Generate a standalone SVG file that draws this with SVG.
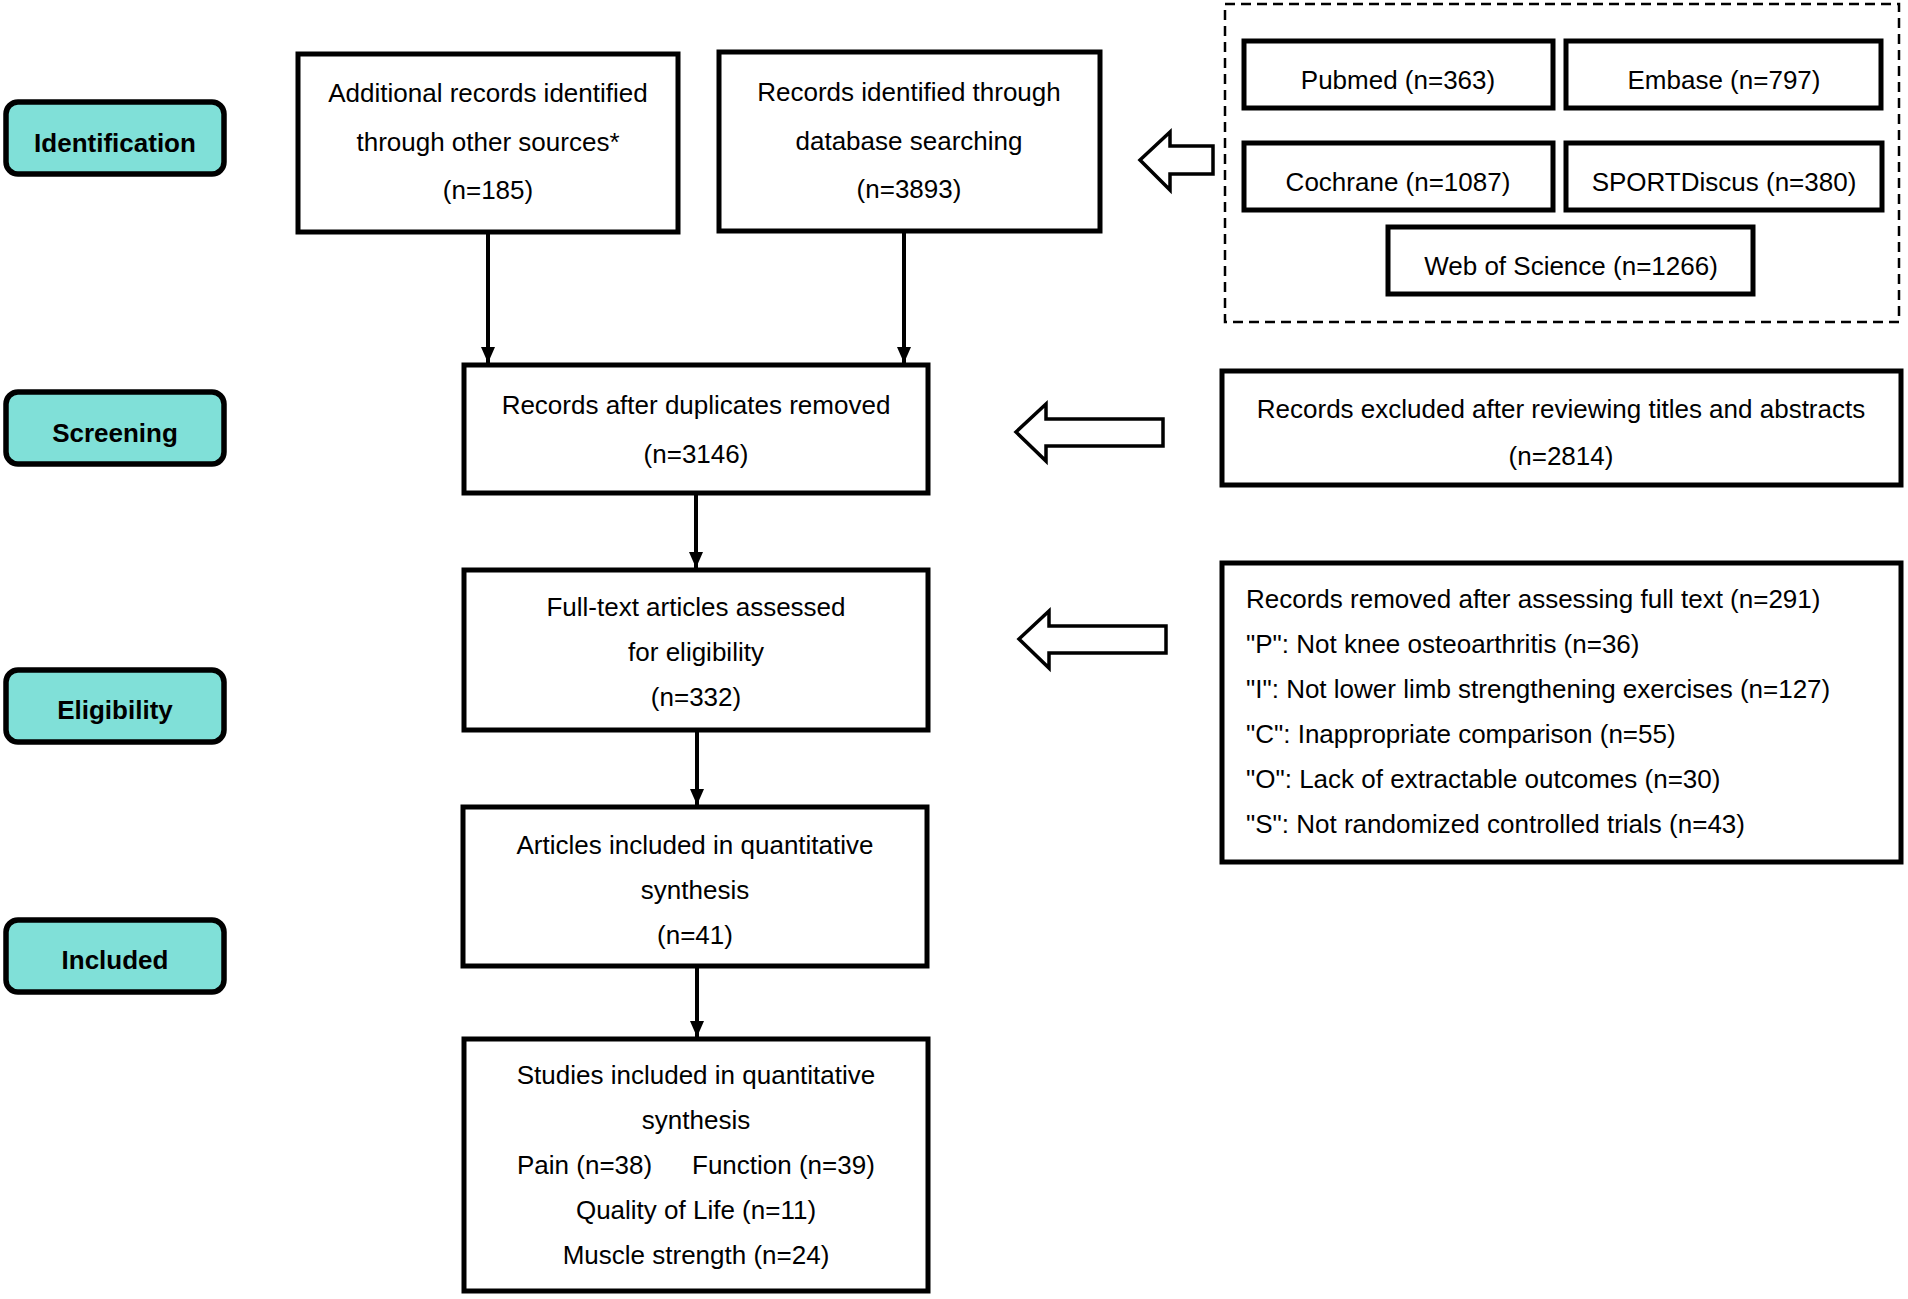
<svg xmlns="http://www.w3.org/2000/svg" width="1908" height="1299" viewBox="0 0 1908 1299">
<style>
text{font-family:"Liberation Sans",Arial,sans-serif;font-size:26px;fill:#000}
.c{text-anchor:middle}
.ph rect{fill:#80e0d8;stroke:#000;stroke-width:5.5}
.ph text{font-weight:bold;text-anchor:middle}
.box{fill:#fff;stroke:#000;stroke-width:5}
.ha{fill:#fff;stroke:#000;stroke-width:3.5;stroke-linejoin:miter}
.cn line{stroke:#000;stroke-width:4}
</style>
<defs>
<marker id="ah" markerUnits="userSpaceOnUse" markerWidth="16" markerHeight="14" refX="16" refY="7" viewBox="0 0 16 14" orient="auto">
<path d="M0,0 L16,7 L0,14 Z" fill="#000"/>
</marker>
</defs>
<rect width="1908" height="1299" fill="#fff"/>

<g id="phase-identification" class="ph"><rect x="6" y="102" width="218" height="72" rx="12"/><text x="115" y="152">Identification</text></g>
<g id="phase-screening" class="ph"><rect x="6" y="392" width="218" height="72" rx="12"/><text x="115" y="442">Screening</text></g>
<g id="phase-eligibility" class="ph"><rect x="6" y="670" width="218" height="72" rx="12"/><text x="115" y="719">Eligibility</text></g>
<g id="phase-included" class="ph"><rect x="6" y="920" width="218" height="72" rx="12"/><text x="115" y="969">Included</text></g>

<g id="other-sources"><rect class="box" x="298" y="54" width="380" height="178"/>
<text class="c" x="488" y="102">Additional records identified</text>
<text class="c" x="488" y="151">through other sources*</text>
<text class="c" x="488" y="199">(n=185)</text></g>

<g id="database-search"><rect class="box" x="719" y="52" width="381" height="179"/>
<text class="c" x="909" y="101">Records identified through</text>
<text class="c" x="909" y="150">database searching</text>
<text class="c" x="909" y="198">(n=3893)</text></g>

<g id="databases">
<rect x="1225" y="4" width="674" height="318" fill="none" stroke="#000" stroke-width="2.5" stroke-dasharray="10,6"/>
<g id="pubmed"><rect class="box" x="1244" y="41" width="309" height="67"/><text class="c" x="1398" y="89">Pubmed (n=363)</text></g>
<g id="embase"><rect class="box" x="1566" y="41" width="315" height="67"/><text class="c" x="1724" y="89">Embase (n=797)</text></g>
<g id="cochrane"><rect class="box" x="1244" y="143" width="309" height="67"/><text class="c" x="1398" y="191">Cochrane (n=1087)</text></g>
<g id="sportdiscus"><rect class="box" x="1566" y="143" width="316" height="67"/><text class="c" x="1724" y="191">SPORTDiscus (n=380)</text></g>
<g id="wos"><rect class="box" x="1388" y="227" width="365" height="67"/><text class="c" x="1571" y="275">Web of Science (n=1266)</text></g>
</g>

<g id="after-duplicates"><rect class="box" x="464" y="365" width="464" height="128"/>
<text class="c" x="696" y="414">Records after duplicates removed</text>
<text class="c" x="696" y="463">(n=3146)</text></g>

<g id="excluded-titles"><rect class="box" x="1222" y="371" width="679" height="114"/>
<text class="c" x="1561" y="418">Records excluded after reviewing titles and abstracts</text>
<text class="c" x="1561" y="465">(n=2814)</text></g>

<g id="full-text"><rect class="box" x="464" y="570" width="464" height="160"/>
<text class="c" x="696" y="616">Full-text articles assessed</text>
<text class="c" x="696" y="661">for eligibility</text>
<text class="c" x="696" y="706">(n=332)</text></g>

<g id="removed-full-text"><rect class="box" x="1222" y="563" width="679" height="299"/>
<text x="1246" y="608">Records removed after assessing full text (n=291)</text>
<text x="1246" y="653">"P": Not knee osteoarthritis (n=36)</text>
<text x="1246" y="698">"I": Not lower limb strengthening exercises (n=127)</text>
<text x="1246" y="743">"C": Inappropriate comparison (n=55)</text>
<text x="1246" y="788">"O": Lack of extractable outcomes (n=30)</text>
<text x="1246" y="833">"S": Not randomized controlled trials (n=43)</text></g>

<g id="articles-included"><rect class="box" x="463" y="807" width="464" height="159"/>
<text class="c" x="695" y="854">Articles included in quantitative</text>
<text class="c" x="695" y="899">synthesis</text>
<text class="c" x="695" y="944">(n=41)</text></g>

<g id="studies-included"><rect class="box" x="464" y="1039" width="464" height="252"/>
<text class="c" x="696" y="1084">Studies included in quantitative</text>
<text class="c" x="696" y="1129">synthesis</text>
<text x="517" y="1174">Pain (n=38)</text>
<text x="692" y="1174">Function (n=39)</text>
<text class="c" x="696" y="1219">Quality of Life (n=11)</text>
<text class="c" x="696" y="1264">Muscle strength (n=24)</text></g>

<g id="connectors" class="cn">
<line x1="488" y1="232" x2="488" y2="363" marker-end="url(#ah)"/>
<line x1="904" y1="231" x2="904" y2="363" marker-end="url(#ah)"/>
<line x1="696" y1="493" x2="696" y2="568" marker-end="url(#ah)"/>
<line x1="697" y1="730" x2="697" y2="805" marker-end="url(#ah)"/>
<line x1="697" y1="966" x2="697" y2="1037" marker-end="url(#ah)"/>
<polygon class="ha" points="1140,160 1170,132 1170,146 1213,146 1213,174 1170,174 1170,190"/>
<polygon class="ha" points="1016,432 1046,404 1046,419 1163,419 1163,446 1046,446 1046,461"/>
<polygon class="ha" points="1019,639 1049,611 1049,626 1166,626 1166,653 1049,653 1049,668"/>
</g>
</svg>
